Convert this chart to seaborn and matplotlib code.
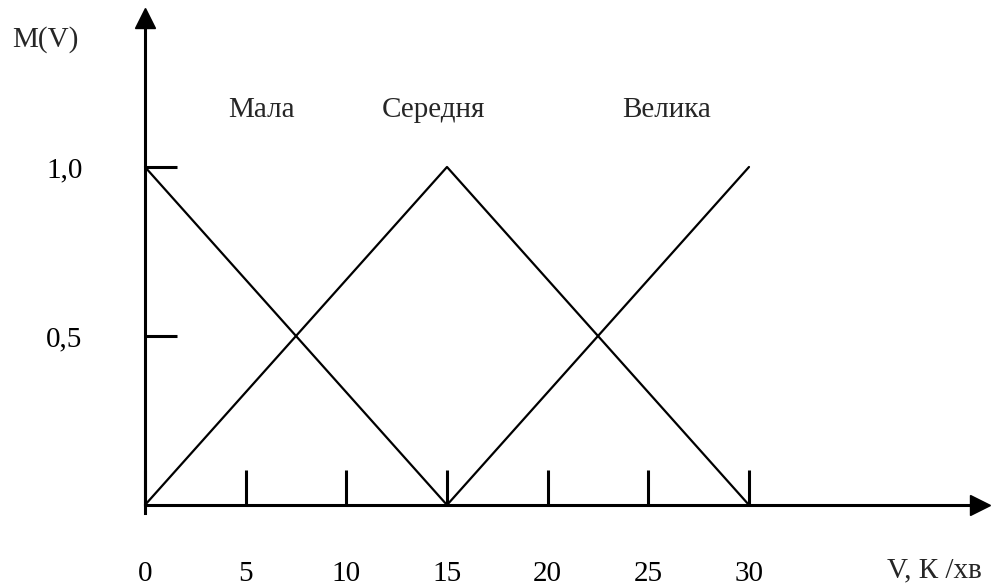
import pandas as pd
import seaborn as sns
import matplotlib.pyplot as plt

# membership functions (V, K/хв -> M(V))
terms = ["Мала", "Середня", "Велика"]
mala_v = [0, 15]
mala_m = [1.0, 0.0]
ser_v = [0, 15, 30]
ser_m = [0.0, 1.0, 0.0]
vel_v = [15, 30]
vel_m = [0.0, 1.0]

x_ticks = [0, 5, 10, 15, 20, 25, 30]
x_labels = ["0", "5", "10", "15", "20", "25", "30"]
y_ticks = [0.5, 1.0]
y_labels = ["0,5", "1,0"]

# label positions for the terms
term_x = [5.81, 14.35, 25.93]
term_y = 1.169

df = pd.concat([
    pd.DataFrame({"V": mala_v, "M": mala_m, "term": terms[0]}),
    pd.DataFrame({"V": ser_v, "M": ser_m, "term": terms[1]}),
    pd.DataFrame({"V": vel_v, "M": vel_m, "term": terms[2]}),
])

sns.set_style("white")
plt.rcParams["font.family"] = ["Liberation Serif", "DejaVu Serif"]
FS = 21

fig = plt.figure(figsize=(9.92, 5.85), dpi=100)
ax = fig.add_axes([0, 0, 1, 1])

sns.lineplot(data=df, x="V", y="M", hue="term", palette=["black"] * 3,
             legend=False, linewidth=1.6, sort=True, ax=ax)

ax.set_xlim(-7.202, 42.07)
ax.set_ylim(-0.2367, 1.494)

# axes drawn as spines through zero
for s in ["top", "right"]:
    ax.spines[s].set_visible(False)
ax.spines["bottom"].set_position(("data", 0))
ax.spines["left"].set_position(("data", 0))
ax.spines["bottom"].set_bounds(0, 41.3)
ax.spines["left"].set_bounds(-0.024, 1.42)
for s in ["bottom", "left"]:
    ax.spines[s].set_linewidth(2.2)
    ax.spines[s].set_color("black")

ax.plot([41.47], [0], marker=">", ms=14.5, color="black", clip_on=False)
ax.plot([0], [1.441], marker="^", ms=14.5, color="black", clip_on=False)

ax.set_xticks(x_ticks)
ax.set_xticklabels(x_labels)
ax.set_yticks(y_ticks)
ax.set_yticklabels(y_labels)
ax.tick_params(axis="x", bottom=True, direction="in", length=25, width=2.2,
               pad=40, labelsize=FS, colors="black")
ax.tick_params(axis="y", left=True, direction="in", length=23, width=2.2,
               pad=45, labelsize=FS, colors="black")
ax.set_xlabel("")
ax.set_ylabel("")

for name, tx in zip(terms, term_x):
    ax.text(tx, term_y, name, fontsize=FS, ha="center", va="center")

ax.text(-6.6, 1.376, "M(V)", fontsize=FS, ha="left", va="center")
ax.text(36.85, -0.192, "V, К /хв", fontsize=FS, ha="left", va="center")

fig.savefig("out.png", dpi=100)
